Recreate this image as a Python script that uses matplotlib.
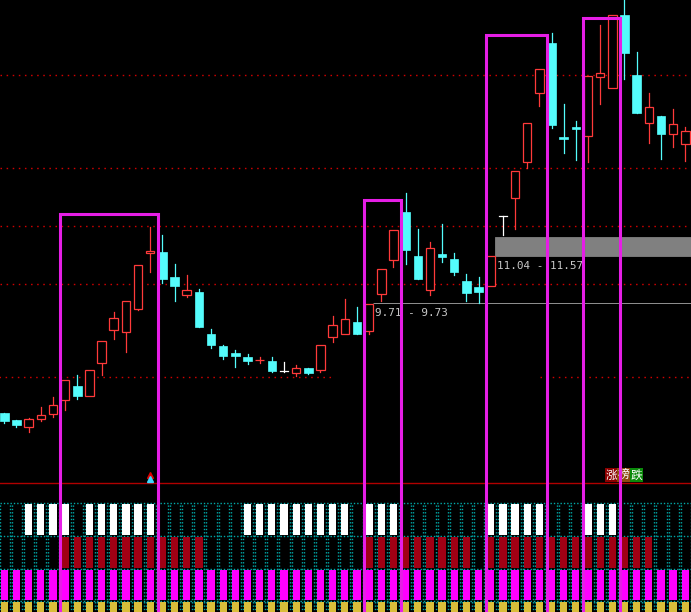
import matplotlib
matplotlib.use("Agg")
import matplotlib.pyplot as plt
from matplotlib.patches import Rectangle

# ---------------- data ----------------
opens = [6.64, 6.44, 6.26, 6.48, 6.60, 7.00, 7.40, 7.11, 8.03, 8.96,
         8.90, 9.56, 11.11, 11.15, 10.45, 9.95, 10.03, 8.85, 8.52, 8.32,
         8.21, 8.12, 8.10, 7.82, 7.75, 7.89, 7.84, 8.76, 8.86, 9.19,
         8.94, 9.96, 10.93, 12.27, 11.04, 10.08, 11.09, 10.95, 10.34, 10.18,
         10.21, 12.15, 12.65, 13.66, 15.59, 17.00, 14.38, 14.66, 14.39, 16.04,
         15.73, 17.78, 16.10, 14.75, 14.96, 14.44, 14.16]
closes = [6.42, 6.30, 6.47, 6.58, 6.86, 7.56, 7.12, 7.84, 8.65, 9.29,
          9.77, 10.78, 11.17, 10.40, 10.20, 10.08, 9.06, 8.55, 8.24, 8.24,
          8.10, 8.13, 7.82, 7.82, 7.89, 7.77, 8.54, 9.10, 9.26, 8.86,
          9.68, 10.66, 11.76, 11.21, 10.40, 11.25, 11.02, 10.60, 10.01, 10.04,
          11.03, 12.15, 13.41, 14.75, 16.26, 14.71, 14.30, 14.60, 16.07, 16.15,
          17.78, 16.73, 15.05, 15.20, 14.46, 14.72, 14.53]
highs = [6.65, 6.44, 6.50, 6.81, 7.09, 7.56, 7.70, 7.84, 8.65, 9.47,
         9.77, 10.78, 11.86, 11.62, 10.81, 10.50, 10.11, 8.99, 8.54, 8.40,
         8.29, 8.21, 8.21, 8.07, 7.98, 7.89, 8.54, 9.36, 9.83, 9.61,
         9.68, 10.66, 11.76, 12.80, 11.79, 11.43, 11.93, 11.12, 10.53, 10.45,
         11.03, 12.15, 13.41, 14.75, 16.26, 17.28, 15.29, 14.82, 16.07, 17.50,
         17.78, 18.35, 16.75, 15.60, 14.96, 15.15, 14.65]
lows = [6.37, 6.25, 6.12, 6.42, 6.54, 6.73, 7.04, 7.11, 7.71, 8.72,
        8.36, 9.52, 10.60, 10.29, 9.78, 9.90, 9.06, 8.47, 8.16, 7.94,
        8.02, 8.04, 7.79, 7.80, 7.67, 7.74, 7.78, 8.64, 8.86, 8.86,
        8.86, 9.78, 10.74, 10.82, 10.40, 9.95, 10.88, 10.51, 9.78, 9.71,
        10.21, 11.62, 11.80, 13.49, 15.24, 14.63, 13.93, 13.73, 13.68, 15.30,
        15.73, 16.00, 15.05, 14.21, 13.76, 14.10, 13.70]

# dotted price levels
levels_full = [16.10, 13.49, 11.87, 10.24]
level_low = 7.64
level_low_segments = [(-0.5, 27.2), (44.05, 57.0)]

# price zones (low, high, start candle, label)
zone_lows = [9.71, 11.04]
zone_highs = [9.73, 11.57]
zone_starts = [30, 40]
zone_labels = ["9.71 - 9.73", "11.04 - 11.57"]

# highlighted boxes (first candle, last candle, top price)
box_first = [5, 30, 40, 48]
box_last = [12, 32, 44, 50]
box_tops = [12.22, 12.60, 17.22, 17.69]

# indicator rows (candle indices with a bar)
white_idx = [2, 3, 4, 5, 7, 8, 9, 10, 11, 12,
             20, 21, 22, 23, 24, 25, 26, 27, 28, 30, 31, 32,
             40, 41, 42, 43, 44, 48, 49, 50]
darkred_idx = list(range(5, 17)) + list(range(30, 39)) + list(range(40, 54))
n = len(opens)
magenta_idx = list(range(n))
yellow_idx = list(range(n))

signal_idx = 12
legend_chars = ["涨", "榜", "跌"]
legend_bg = ["#8B0000", "#8B4A10", "#0A8A0A"]

# ---------------- styling ----------------
RED = "#FF3A3A"
CYAN = "#54FCFC"
MAG = "#E61EE6"
W = 0.70

fig = plt.figure(figsize=(6.91, 6.12), dpi=100, facecolor="black")
ax_low = fig.add_axes([0, 0, 1, 149 / 612])
ax = fig.add_axes([0, 0, 1, 1])
ax.set_zorder(2)
ax.patch.set_alpha(0)

xl = (-0.354, 56.47)
for a in (ax, ax_low):
    a.set_xlim(*xl)
    a.axis("off")
ax_low.set_facecolor("black")
ax.set_ylim(1.068, 18.204)
ax_low.set_ylim(0.672, 5.236)

# ---- main panel ----
for lv in levels_full:
    ax.plot(xl, [lv, lv], color="#D00000", lw=1.0, ls=(0, (1.1, 3.3)), zorder=1)
for a0, a1 in level_low_segments:
    ax.plot([a0, a1], [level_low, level_low], color="#D00000", lw=1.0,
            ls=(0, (1.1, 3.3)), zorder=1)

for lo, hi, st, lab in zip(zone_lows, zone_highs, zone_starts, zone_labels):
    col = "#A8A8A8" if hi - lo < 0.1 else "#808080"
    ax.add_patch(Rectangle((st + 0.35, lo), 60, hi - lo, facecolor=col,
                           edgecolor=col, lw=0.6, zorder=1.5))
    ax.text(st + 0.5, lo - 0.27, lab, color="#C8C8C8", fontsize=7.9,
            family="DejaVu Sans Mono", va="center", ha="left", zorder=1.6)

for i, (o, c, h, l) in enumerate(zip(opens, closes, highs, lows)):
    if c > o:
        ax.plot([i, i], [c, h], color=RED, lw=0.9, zorder=3)
        ax.plot([i, i], [l, o], color=RED, lw=0.9, zorder=3)
        ax.add_patch(Rectangle((i - W / 2, o), W, c - o, facecolor="black",
                               edgecolor=RED, lw=0.9, zorder=3))
    elif c < o:
        ax.plot([i, i], [l, h], color=CYAN, lw=0.9, zorder=3)
        ax.add_patch(Rectangle((i - W / 2, c), W, o - c, facecolor=CYAN,
                               edgecolor=CYAN, lw=0.5, zorder=3))
    else:
        ax.plot([i, i], [l, h], color="white", lw=0.9, zorder=3)
        ax.plot([i - W / 2, i + W / 2], [o, o], color="white", lw=0.9, zorder=3)

for f, la, top in zip(box_first, box_last, box_tops):
    x0, x1 = f - 0.4, la + 0.6
    ax.plot([x0, x0, x1, x1], [0.5, top, top, 0.5], color=MAG, lw=2.2,
            solid_joinstyle="miter", zorder=5)

# ---- lower panel ----
GRID = "#00A8A8"
for r in [1, 2, 3, 4]:
    ax_low.plot(xl, [r, r], color=GRID, lw=1.0, ls=(0, (1, 1.4)), zorder=1)
for b in range(-1, n):
    for off in (-0.04, 0.125):
        xb = b + 0.5 + off
        ax_low.plot([xb, xb], [0.5, 4.0], color=GRID, lw=1.0,
                    ls=(0, (1, 1.4)), zorder=1)

BW = 0.60
ax_low.bar(white_idx, 0.95, bottom=3.03, width=BW, color="white", zorder=2)
ax_low.bar(darkred_idx, 0.95, bottom=2.03, width=BW, color="#A00014", zorder=2)
ax_low.bar(magenta_idx, 0.92, bottom=1.04, width=BW, color="#FF00FF", zorder=2)
ax_low.bar(yellow_idx, 0.95, bottom=0.03, width=BW, color="#D9BE3A", zorder=2)

ax_low.plot(xl, [4.613, 4.613], color="#B00000", lw=1.0, zorder=2)
ax_low.plot([signal_idx], [4.87], marker="^", color="#E00000", ms=5, lw=0, zorder=3)
ax_low.plot([signal_idx], [4.75], marker="^", color="#40D8FF", ms=5, lw=0, zorder=3)

for k, (ch, bg) in enumerate(zip(legend_chars, legend_bg)):
    ax_low.text(49.9 + k * 1.04, 4.87, ch, color="white", fontsize=8.5,
                family=["Noto Sans CJK SC", "DejaVu Sans"], ha="center",
                va="center", zorder=3,
                bbox=dict(boxstyle="square,pad=0.06", fc=bg, ec="none"))

fig.savefig("out.png", dpi=100, facecolor="black")
